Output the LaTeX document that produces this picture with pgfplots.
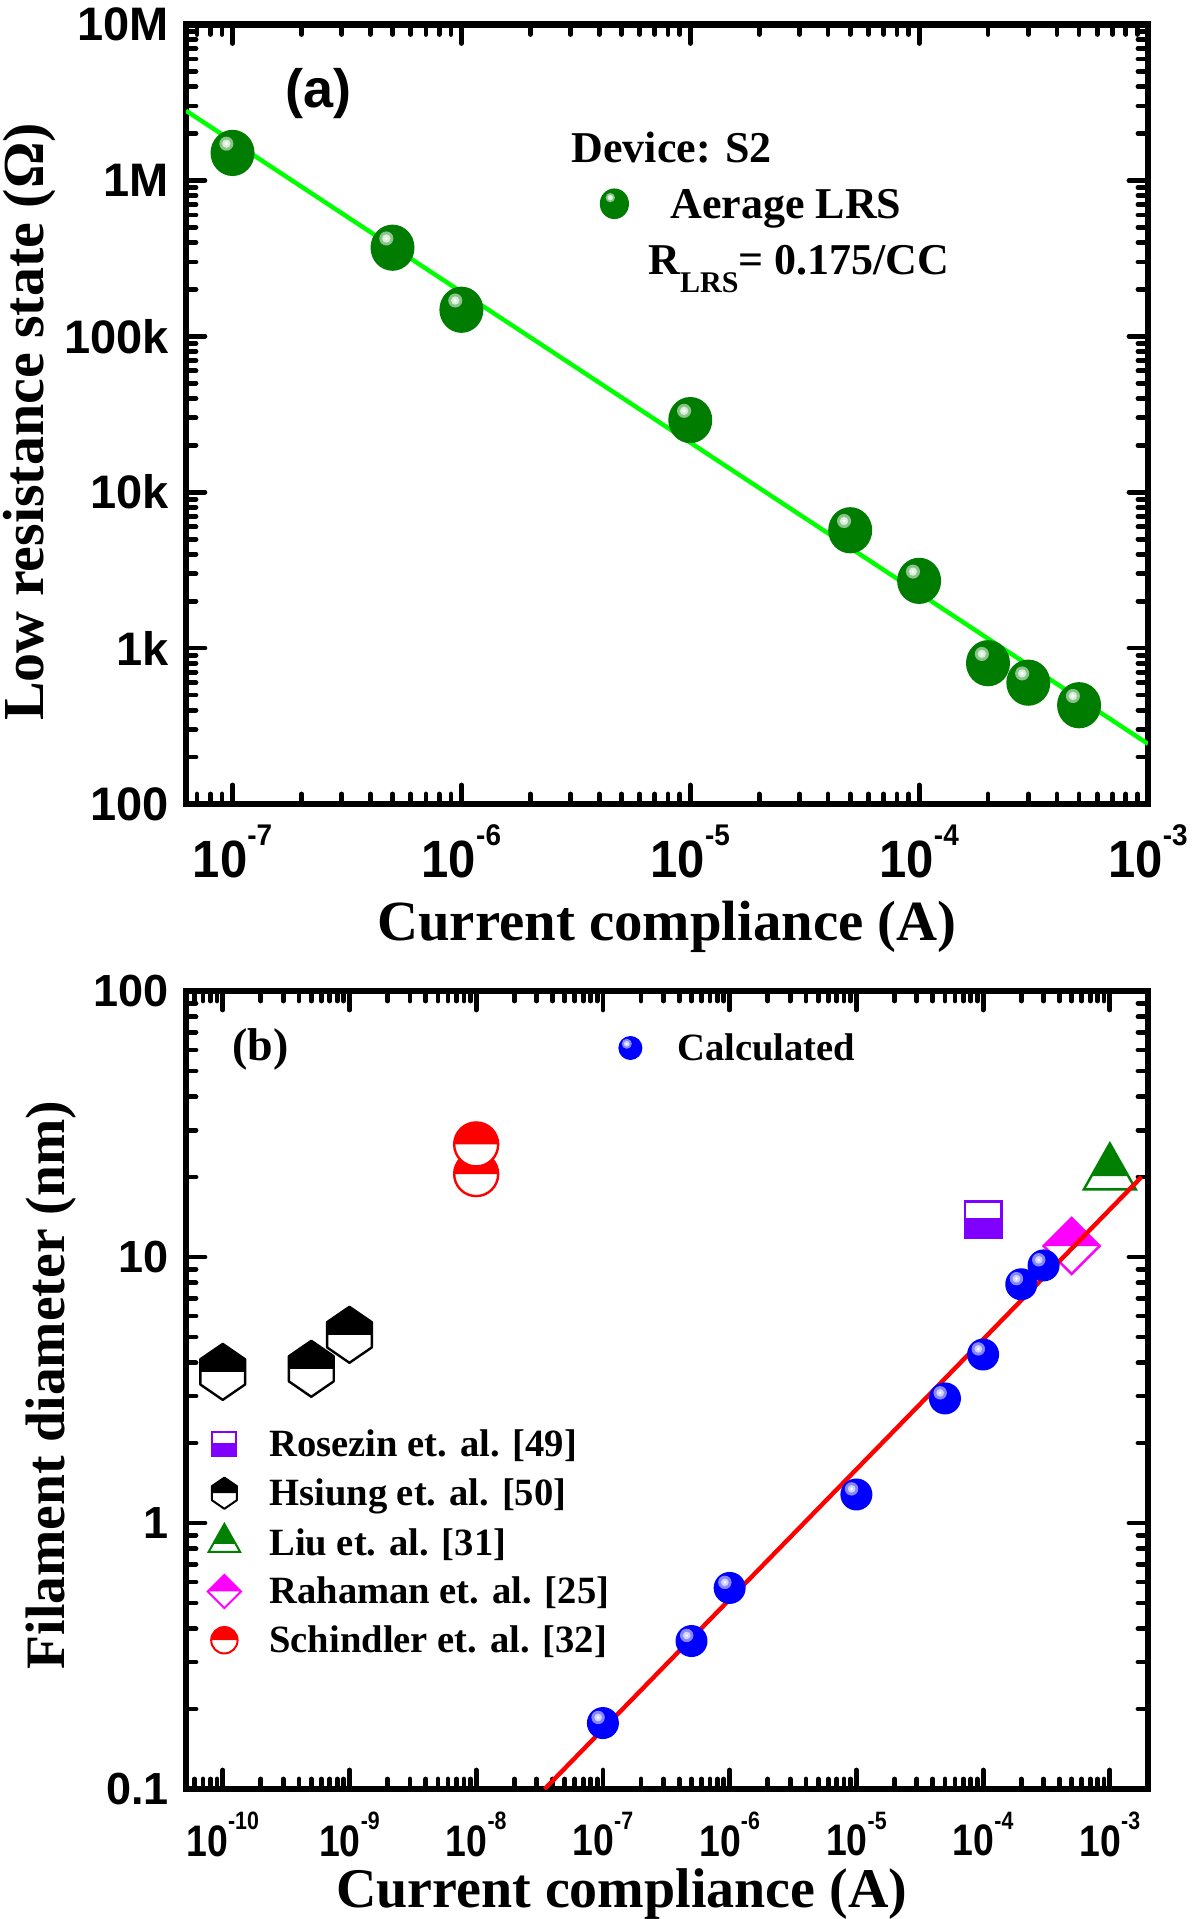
\documentclass[border=0pt]{standalone}
\usepackage{fontspec}
\setmainfont{Liberation Serif}
\newfontfamily\arial{Liberation Sans}
\usepackage{pgfplots}
\pgfplotsset{compat=1.18}

\newcommand\fs[1]{\fontsize{#1}{#1}\selectfont}
\newcommand\dec[1]{10\raisebox{0.6em}{\scalebox{0.57}{#1}}}
\newcommand\decA[1]{\scalebox{1}[1.07]{\dec{#1}}}
\newcommand\decB[1]{\scalebox{1}[1.18]{\dec{#1}}}

\definecolor{gdark}{RGB}{0,125,0}
\definecolor{gmid}{RGB}{140,195,140}
\definecolor{glite}{RGB}{215,240,215}
\definecolor{lgreen}{RGB}{0,255,0}
\definecolor{bblue}{RGB}{0,0,255}
\definecolor{bmid}{RGB}{135,135,255}
\definecolor{blite}{RGB}{210,210,255}
\definecolor{rpurp}{RGB}{128,0,255}
\definecolor{liug}{RGB}{0,128,0}
\definecolor{rmag}{RGB}{255,0,255}

% shaded balls
\pgfdeclareplotmark{gball}{%
  \pgfsetfillcolor{gdark}%
  \pgfpathellipse{\pgfpointorigin}{\pgfqpoint{\pgfplotmarksize}{0pt}}{\pgfqpoint{0pt}{1.05\pgfplotmarksize}}\pgfusepathqfill
  \pgfsetfillcolor{gmid}%
  \pgfpathcircle{\pgfqpoint{-0.28\pgfplotmarksize}{0.42\pgfplotmarksize}}{0.32\pgfplotmarksize}\pgfusepathqfill
  \pgfsetfillcolor{glite}%
  \pgfpathcircle{\pgfqpoint{-0.28\pgfplotmarksize}{0.42\pgfplotmarksize}}{0.19\pgfplotmarksize}\pgfusepathqfill
  \pgfsetfillcolor{white}%
  \pgfpathcircle{\pgfqpoint{-0.28\pgfplotmarksize}{0.42\pgfplotmarksize}}{0.08\pgfplotmarksize}\pgfusepathqfill}
\pgfdeclareplotmark{bball}{%
  \pgfsetfillcolor{bblue}%
  \pgfpathcircle{\pgfpointorigin}{\pgfplotmarksize}\pgfusepathqfill
  \pgfsetfillcolor{bmid}%
  \pgfpathcircle{\pgfqpoint{-0.3\pgfplotmarksize}{0.35\pgfplotmarksize}}{0.42\pgfplotmarksize}\pgfusepathqfill
  \pgfsetfillcolor{blite}%
  \pgfpathcircle{\pgfqpoint{-0.3\pgfplotmarksize}{0.35\pgfplotmarksize}}{0.24\pgfplotmarksize}\pgfusepathqfill
  \pgfsetfillcolor{white}%
  \pgfpathcircle{\pgfqpoint{-0.3\pgfplotmarksize}{0.35\pgfplotmarksize}}{0.09\pgfplotmarksize}\pgfusepathqfill}

% half filled marks (upper part in fill colour, lower part white)
\pgfdeclareplotmark{hcirc}{%
  \pgfscope\pgfsetfillcolor{white}\pgfpathcircle{\pgfpointorigin}{\pgfplotmarksize}\pgfusepathqfill\endpgfscope
  \pgfpathmoveto{\pgfqpoint{\pgfplotmarksize}{0pt}}%
  \pgfpatharc{0}{180}{\pgfplotmarksize}\pgfpathclose\pgfusepathqfill
  \pgfpathcircle{\pgfpointorigin}{\pgfplotmarksize}\pgfusepathqstroke}
\def\hexpath{%
  \pgfpathmoveto{\pgfqpoint{0pt}{\pgfplotmarksize}}%
  \pgfpathlineto{\pgfqpoint{0.8\pgfplotmarksize}{0.45\pgfplotmarksize}}%
  \pgfpathlineto{\pgfqpoint{0.8\pgfplotmarksize}{-0.45\pgfplotmarksize}}%
  \pgfpathlineto{\pgfqpoint{0pt}{-\pgfplotmarksize}}%
  \pgfpathlineto{\pgfqpoint{-0.8\pgfplotmarksize}{-0.45\pgfplotmarksize}}%
  \pgfpathlineto{\pgfqpoint{-0.8\pgfplotmarksize}{0.45\pgfplotmarksize}}%
  \pgfpathclose}
\pgfdeclareplotmark{hhex}{%
  \pgfscope\pgfsetfillcolor{white}\hexpath\pgfusepathqfill\endpgfscope
  \pgfpathmoveto{\pgfqpoint{-0.8\pgfplotmarksize}{0pt}}%
  \pgfpathlineto{\pgfqpoint{-0.8\pgfplotmarksize}{0.45\pgfplotmarksize}}%
  \pgfpathlineto{\pgfqpoint{0pt}{\pgfplotmarksize}}%
  \pgfpathlineto{\pgfqpoint{0.8\pgfplotmarksize}{0.45\pgfplotmarksize}}%
  \pgfpathlineto{\pgfqpoint{0.8\pgfplotmarksize}{0pt}}%
  \pgfpathclose\pgfusepathqfill
  \pgfsetroundjoin\hexpath\pgfusepathqstroke}
\pgfdeclareplotmark{hsq}{% lower part filled
  \pgfscope\pgfsetfillcolor{white}\pgfpathrectanglecorners{\pgfqpoint{-\pgfplotmarksize}{-\pgfplotmarksize}}{\pgfqpoint{\pgfplotmarksize}{\pgfplotmarksize}}\pgfusepathqfill\endpgfscope
  \pgfpathrectanglecorners{\pgfqpoint{-\pgfplotmarksize}{-\pgfplotmarksize}}{\pgfqpoint{\pgfplotmarksize}{0.1\pgfplotmarksize}}\pgfusepathqfill
  \pgfpathrectanglecorners{\pgfqpoint{-\pgfplotmarksize}{-\pgfplotmarksize}}{\pgfqpoint{\pgfplotmarksize}{\pgfplotmarksize}}\pgfusepathqstroke}
\pgfdeclareplotmark{hdia}{%
  \pgfscope\pgfsetfillcolor{white}%
  \pgfpathmoveto{\pgfqpoint{0pt}{\pgfplotmarksize}}\pgfpathlineto{\pgfqpoint{\pgfplotmarksize}{0pt}}%
  \pgfpathlineto{\pgfqpoint{0pt}{-\pgfplotmarksize}}\pgfpathlineto{\pgfqpoint{-\pgfplotmarksize}{0pt}}\pgfpathclose\pgfusepathqfill\endpgfscope
  \pgfpathmoveto{\pgfqpoint{-\pgfplotmarksize}{0pt}}\pgfpathlineto{\pgfqpoint{0pt}{\pgfplotmarksize}}%
  \pgfpathlineto{\pgfqpoint{\pgfplotmarksize}{0pt}}\pgfpathclose\pgfusepathqfill
  \pgfpathmoveto{\pgfqpoint{0pt}{\pgfplotmarksize}}\pgfpathlineto{\pgfqpoint{\pgfplotmarksize}{0pt}}%
  \pgfpathlineto{\pgfqpoint{0pt}{-\pgfplotmarksize}}\pgfpathlineto{\pgfqpoint{-\pgfplotmarksize}{0pt}}\pgfpathclose\pgfusepathqstroke}
\pgfdeclareplotmark{htri}{%
  \pgfscope\pgfsetfillcolor{white}%
  \pgfpathmoveto{\pgfqpoint{0pt}{1.18\pgfplotmarksize}}\pgfpathlineto{\pgfqpoint{\pgfplotmarksize}{-0.59\pgfplotmarksize}}%
  \pgfpathlineto{\pgfqpoint{-\pgfplotmarksize}{-0.59\pgfplotmarksize}}\pgfpathclose\pgfusepathqfill\endpgfscope
  \pgfpathmoveto{\pgfqpoint{0pt}{1.18\pgfplotmarksize}}\pgfpathlineto{\pgfqpoint{0.71\pgfplotmarksize}{-0.08\pgfplotmarksize}}%
  \pgfpathlineto{\pgfqpoint{-0.71\pgfplotmarksize}{-0.08\pgfplotmarksize}}\pgfpathclose\pgfusepathqfill
  \pgfpathmoveto{\pgfqpoint{0pt}{1.18\pgfplotmarksize}}\pgfpathlineto{\pgfqpoint{\pgfplotmarksize}{-0.59\pgfplotmarksize}}%
  \pgfpathlineto{\pgfqpoint{-\pgfplotmarksize}{-0.59\pgfplotmarksize}}\pgfpathclose\pgfusepathqstroke}

\begin{document}
\begin{tikzpicture}
\useasboundingbox (0,0) rectangle (597pt,959.5pt);

% (a) low resistance state vs current compliance
\begin{axis}[at={(93pt,557.5pt)}, anchor=south west,
  scale only axis, width=481pt, height=389.75pt,
  xmode=log, ymode=log,
  xmin=6.26e-8, xmax=1e-3, ymin=100, ymax=1e7,
  axis line style={line width=3.2pt},
  tick align=inside, tick pos=both,
  major tick length=9.5pt, minor tick length=5pt,
  tick style={line width=2.4pt, line cap=round, black},
  xtick={1e-7,1e-6,1e-5,1e-4,1e-3},
  xticklabels={\decA{-7},\decA{-6},\decA{-5},\decA{-4},\decA{-3}},
  minor xtick={7e-8,8e-8,9e-8,
    2e-7,3e-7,4e-7,5e-7,6e-7,7e-7,8e-7,9e-7,
    2e-6,3e-6,4e-6,5e-6,6e-6,7e-6,8e-6,9e-6,
    2e-5,3e-5,4e-5,5e-5,6e-5,7e-5,8e-5,9e-5,
    2e-4,3e-4,4e-4,5e-4,6e-4,7e-4,8e-4,9e-4},
  ytick={1e2,1e3,1e4,1e5,1e6,1e7},
  yticklabels={100,1k,10k,100k,1M,10M},
  minor ytick={200,300,400,500,600,700,800,900,
    2e3,3e3,4e3,5e3,6e3,7e3,8e3,9e3,
    2e4,3e4,4e4,5e4,6e4,7e4,8e4,9e4,
    2e5,3e5,4e5,5e5,6e5,7e5,8e5,9e5,
    2e6,3e6,4e6,5e6,6e6,7e6,8e6,9e6},
  xticklabel style={font=\arial\bfseries\fs{24.5}, yshift=-7pt},
  yticklabel style={font=\arial\bfseries\fs{23.5}, xshift=-5pt},
  xlabel={Current compliance (A)},
  ylabel={Low resistance state (Ω)},
  xlabel style={font=\bfseries\fs{28.4}, at={(axis description cs:0.5,-0.1745)}, anchor=base, inner sep=0pt},
  ylabel style={font=\bfseries\fs{29}, at={(axis description cs:-0.1476,0.49)}, anchor=base, inner sep=0pt},
  legend cell align=left,
  legend style={at={(axis description cs:0,0.770)}, anchor=west, xshift=206.7pt,
    draw=none, fill=none, inner sep=0pt, font=\bfseries\fs{22}, column sep=20.7pt,
    nodes={inner sep=0pt, text height=16.3pt, text depth=1.7pt}},
]
\addplot[only marks, mark=gball, mark size=11pt, forget plot] coordinates {
  (1e-7,1.5e6) (5e-7,3.7e5) (1e-6,1.48e5) (1e-5,2.9e4) (5e-5,5.7e3)
  (1e-4,2.7e3) (2e-4,800) (3e-4,600) (5e-4,430)};
\addlegendimage{only marks, mark=gball, mark size=7.3pt}
\addlegendentry{Aerage LRS}
\addplot[lgreen, line width=2.2pt, no marks, forget plot] coordinates {(6.26e-8,2.8e6) (1e-3,243)};
\end{axis}

% (b) filament diameter, literature values
\begin{axis}[at={(93pt,65pt)}, anchor=south west,
  scale only axis, width=481pt, height=399pt,
  xmode=log, ymode=log,
  xmin=5.13e-11, xmax=2e-3, ymin=0.1, ymax=100,
  axis line style={line width=3.2pt},
  tick align=inside, tick pos=both,
  major tick length=9.5pt, minor tick length=5pt,
  tick style={line width=2.4pt, line cap=round, black},
  xtick={1e-10,1e-9,1e-8,1e-7,1e-6,1e-5,1e-4,1e-3},
  xticklabels={\decB{-10},\decB{-9},\decB{-8},\decB{-7},\decB{-6},\decB{-5},\decB{-4},\decB{-3}},
  minor xtick={6e-11,7e-11,8e-11,9e-11,
    2e-10,3e-10,4e-10,5e-10,6e-10,7e-10,8e-10,9e-10,
    2e-9,3e-9,4e-9,5e-9,6e-9,7e-9,8e-9,9e-9,
    2e-8,3e-8,4e-8,5e-8,6e-8,7e-8,8e-8,9e-8,
    2e-7,3e-7,4e-7,5e-7,6e-7,7e-7,8e-7,9e-7,
    2e-6,3e-6,4e-6,5e-6,6e-6,7e-6,8e-6,9e-6,
    2e-5,3e-5,4e-5,5e-5,6e-5,7e-5,8e-5,9e-5,
    2e-4,3e-4,4e-4,5e-4,6e-4,7e-4,8e-4,9e-4},
  ytick={0.1,1,10,100}, yticklabels={0.1,1,10,100},
  minor ytick={0.2,0.3,0.4,0.5,0.6,0.7,0.8,0.9,
    2,3,4,5,6,7,8,9,20,30,40,50,60,70,80,90},
  xticklabel style={font=\arial\bfseries\fs{18.7}, yshift=-8pt},
  yticklabel style={font=\arial\bfseries\fs{22.5}, xshift=-5pt},
  xlabel={Current compliance (A)},
  ylabel={Filament diameter (nm)},
  xlabel style={font=\bfseries\fs{28}, at={(axis description cs:0.453,-0.149)}, anchor=base, inner sep=0pt},
  ylabel style={font=\bfseries\fs{27.8}, at={(axis description cs:-0.126,0.506)}, anchor=base, inner sep=0pt},
  legend cell align=left,
  legend style={at={(axis description cs:0,0.4549)}, anchor=north west, xshift=10.7pt,
    draw=none, fill=none, inner sep=0pt, font=\bfseries\fs{19.3}, column sep=14.2pt, row sep=6.4pt,
    nodes={inner sep=0pt, text height=15.2pt, text depth=2.8pt}},
]
\addplot[only marks, mark=hsq, mark size=9.2pt, draw=rpurp, fill=rpurp, mark options={line width=1.2pt}, forget plot]
  coordinates {(1e-4,13.8)};
\addplot[only marks, mark=hhex, mark size=14pt, draw=black, fill=black, mark options={line width=1.2pt}, forget plot]
  coordinates {(1e-10,3.7) (5e-10,3.8) (1e-9,5.1)};
\addplot[only marks, mark=htri, mark size=13pt, draw=liug, fill=liug, mark options={line width=1.2pt}, forget plot]
  coordinates {(1e-3,20.5)};
\addplot[only marks, mark=hdia, mark size=14pt, draw=rmag, fill=rmag, mark options={line width=1.2pt}, forget plot]
  coordinates {(5e-4,11)};
\addplot[only marks, mark=hcirc, mark size=11pt, draw=red, fill=red, mark options={line width=1.2pt}, forget plot]
  coordinates {(1e-8,20.5) (1e-8,26.5)};
\addlegendimage{only marks, mark=hsq, mark size=6pt, draw=rpurp, fill=rpurp, mark options={line width=1pt}}
\addlegendentry{Rosezin et. al. [49]}
\addlegendimage{only marks, mark=hhex, mark size=7.8pt, draw=black, fill=black, mark options={line width=1pt}}
\addlegendentry{Hsiung et. al. [50]}
\addlegendimage{only marks, mark=htri, mark size=7.9pt, draw=liug, fill=liug, mark options={line width=1pt}}
\addlegendentry{Liu et. al. [31]}
\addlegendimage{only marks, mark=hdia, mark size=8.3pt, draw=rmag, fill=rmag, mark options={line width=1pt}}
\addlegendentry{Rahaman et. al. [25]}
\addlegendimage{only marks, mark=hcirc, mark size=6.6pt, draw=red, fill=red, mark options={line width=1pt}}
\addlegendentry{Schindler et. al. [32]}
\end{axis}

% (b) calculated values and fit, drawn on top
\begin{axis}[at={(93pt,65pt)}, anchor=south west, hide axis,
  scale only axis, width=481pt, height=399pt,
  xmode=log, ymode=log,
  xmin=5.13e-11, xmax=2e-3, ymin=0.1, ymax=100,
  legend cell align=left,
  legend style={at={(axis description cs:0,0.9286)}, anchor=west, xshift=216pt,
    draw=none, fill=none, inner sep=0pt, font=\bfseries\fs{19.3}, column sep=17.5pt,
    nodes={inner sep=0pt, text height=15.2pt, text depth=2.8pt}},
]
\addplot[only marks, mark=bball, mark size=8pt, forget plot] coordinates {
  (1e-7,0.177) (5e-7,0.36) (1e-6,0.57) (1e-5,1.28) (5e-5,2.94)
  (1e-4,4.3) (2e-4,7.9) (3e-4,9.3)};
\addlegendimage{only marks, mark=bball, mark size=6pt}
\addlegendentry{Calculated}
\addplot[red, line width=2.2pt, no marks, forget plot] coordinates {(3.47e-8,0.1) (1.78e-3,20)};
\end{axis}

\node[anchor=base west, inner sep=0pt, font=\arial\bfseries\fs{27}] at (142.5pt,905.6pt) {(a)};
\node[anchor=base west, inner sep=0pt, font=\bfseries\fs{22}] at (285.6pt,878pt) {Device: S2};
\node[anchor=base west, inner sep=0pt, font=\bfseries\fs{22}] at (324pt,822pt)
  {R\raisebox{-9pt}{\fs{15}LRS}= 0.175/CC};
\node[anchor=base west, inner sep=0pt, font=\bfseries\fs{23}] at (116pt,429pt) {(b)};
\end{tikzpicture}
\end{document}
